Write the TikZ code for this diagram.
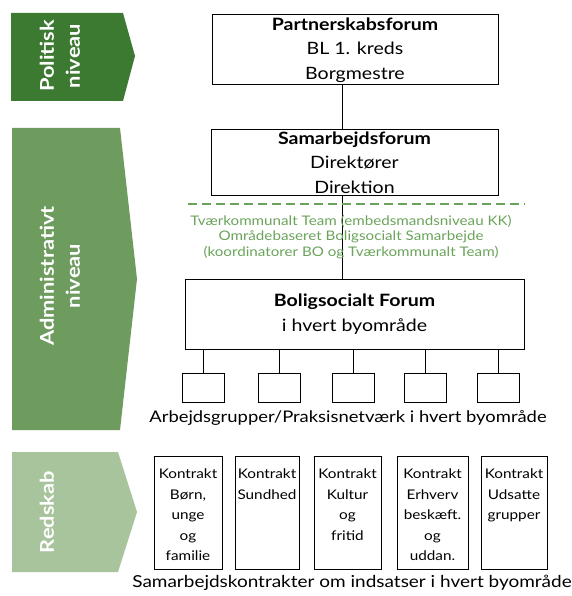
\documentclass[tikz,border=0pt]{standalone}
\usepackage{fontspec}
\setmainfont{Lato}[FakeStretch=1.15]
\definecolor{polgreen}{HTML}{3C7A32}
\definecolor{admgreen}{HTML}{6E9B5E}
\definecolor{redgreen}{HTML}{A8C49C}
\definecolor{txtgreen}{HTML}{6AA35A}

\begin{document}
\begin{tikzpicture}[x=1pt, y=-1pt]
    \useasboundingbox (0,0) rectangle (571,596);
    \tikzset{ForumStyle/.style={draw, line width=1pt, minimum height=65pt, inner sep=0pt,
             align=center, font=\fontsize{17}{24.5}\selectfont}}
    \tikzset{GroupStyle/.style={draw, line width=1pt, minimum width=42pt, minimum height=29pt}}
    \tikzset{KontraktStyle/.style={draw, line width=1pt, minimum height=113pt, inner sep=0pt}}
    \tikzset{KontraktText/.style={align=center, font=\fontsize{13.3}{20.5}\selectfont, anchor=north}}
    \tikzset{NiveauText/.style={rotate=90, text=white, align=center,
             font=\bfseries\fontsize{19}{26}\selectfont}}

    % niveauer
    \fill[polgreen] (11,13) -- (123,13) -- (135,56) -- (123,101) -- (11,101) -- cycle;
    \fill[admgreen] (12,128) -- (120,128) -- (137,279) -- (120,430) -- (12,430) -- cycle;
    \fill[redgreen] (12,452) -- (118,452) -- (137,512) -- (118,572) -- (12,572) -- cycle;
    \node[NiveauText] (pol) at (60,56) {Politisk\\niveau};
    \node[NiveauText] (adm) at (60,276) {Administrativt\\niveau};
    \node[NiveauText] (red) at (47,512) {Redskab};

    % fora
    \coordinate (spine) at (342,0);
    \node[ForumStyle, minimum width=286pt, minimum height=70pt] (partner) at (355,50)
        {\textbf{Partnerskabsforum}\\BL 1. kreds\\Borgmestre};
    \node[ForumStyle, minimum width=287pt] (samarb) at (354.5,162.5)
        {\textbf{Samarbejdsforum}\\Direktører\\Direktion};
    \node[ForumStyle, minimum width=339pt, minimum height=70pt] (bolig) at (354.5,314)
        {\textbf{Boligsocialt Forum}\\i hvert byområde};

    \draw[line width=1pt] (partner.south -| spine) -- (samarb.north -| spine);
    \draw[line width=1pt] (samarb.south -| spine) -- (bolig.north -| spine);

    % tværkommunalt
    \coordinate (dashL) at (188,204);
    \coordinate (dashR) at (525,204);
    \draw[txtgreen, line width=1.3pt, dash pattern=on 9pt off 5pt] (dashL) -- (dashR);
    \node[text=txtgreen, align=center, font=\fontsize{13.2}{15.8}\selectfont] (tvaer) at (351,237)
        {Tværkommunalt Team (embedsmandsniveau KK)\\
         Områdebaseret Boligsocialt Samarbejde\\
         (koordinatorer BO og Tværkommunalt Team)};

    % arbejdsgrupper
    \node[GroupStyle] (ag1) at (203,387.5) {};
    \node[GroupStyle] (ag2) at (279.5,387.5) {};
    \node[GroupStyle] (ag3) at (353,387.5) {};
    \node[GroupStyle] (ag4) at (425.5,387.5) {};
    \node[GroupStyle] (ag5) at (498.5,387.5) {};
    \foreach \g in {ag1,ag2,ag3,ag4,ag5}
        \draw[line width=1pt] (bolig.south -| \g.north) -- (\g.north);
    \node[font=\fontsize{16}{18}\selectfont] (agtext) at (348,418)
        {Arbejdsgrupper/Praksisnetværk i hvert byområde};

    % kontrakter
    \node[KontraktStyle, minimum width=68pt] (k1) at (188,512.5) {};
    \node[KontraktStyle, minimum width=64pt] (k2) at (267,512.5) {};
    \node[KontraktStyle, minimum width=67pt] (k3) at (347.5,512.5) {};
    \node[KontraktStyle, minimum width=71pt] (k4) at (432.5,512.5) {};
    \node[KontraktStyle, minimum width=66pt] (k5) at (514,512.5) {};
    \node[KontraktText] (k1t) at ([yshift=-10pt]k1.north) {Kontrakt\\Børn,\\unge\\og\\familie};
    \node[KontraktText] (k2t) at ([yshift=-10pt]k2.north) {Kontrakt\\Sundhed};
    \node[KontraktText] (k3t) at ([yshift=-10pt]k3.north) {Kontrakt\\Kultur\\og\\fritid};
    \node[KontraktText] (k4t) at ([yshift=-10pt]k4.north) {Kontrakt\\Erhverv\\beskæft.\\og\\uddan.};
    \node[KontraktText] (k5t) at ([yshift=-10pt]k5.north) {Kontrakt\\Udsatte\\grupper};
    \node[font=\fontsize{16.5}{18}\selectfont] (ktext) at (352,583)
        {Samarbejdskontrakter om indsatser i hvert byområde};
\end{tikzpicture}
\end{document}
